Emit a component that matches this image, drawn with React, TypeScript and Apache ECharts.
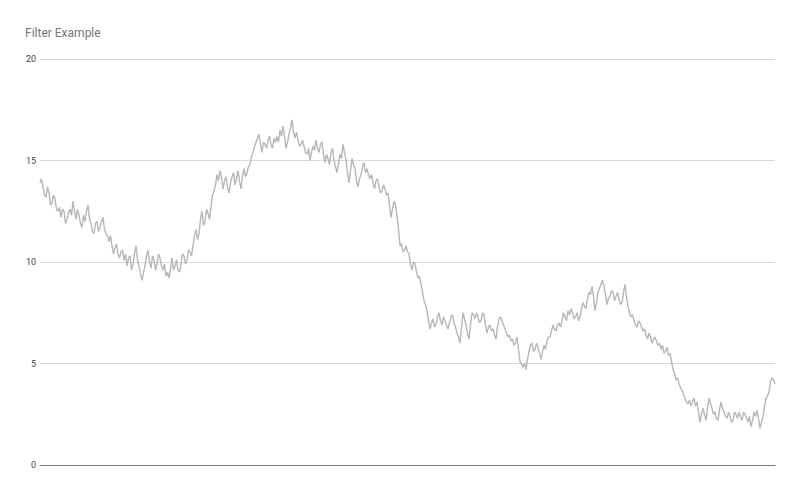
import { useEffect, useRef } from 'react'
import * as echarts from 'echarts'

const title = 'Filter Example'
const yTicks = [0, 5, 10, 15, 20]

// left to right, one value every ~1.5px
const values = [
  13.9, 14.1, 13.7, 13.3, 13.2, 13.7, 13.4, 12.8, 12.9, 13.3, 13.1, 12.6, 12.5, 12.7, 12.2, 12.6, 12.5, 11.9, 12.1, 12.4,
  12.6, 12.3, 13.0, 12.5, 12.1, 12.6, 12.3, 11.9, 11.7, 12.3, 12.0, 12.5, 12.8, 12.1, 11.9, 11.5, 11.4, 11.9, 12.0, 11.5,
  11.7, 12.0, 12.2, 11.6, 11.4, 11.3, 11.0, 11.3, 10.8, 10.4, 10.7, 10.9, 10.4, 10.2, 10.5, 10.6, 10.1, 10.4, 9.8, 10.2,
  10.3, 9.6, 9.9, 10.4, 10.8, 10.1, 9.8, 9.4, 9.1, 9.5, 9.8, 10.3, 10.6, 10.0, 9.7, 10.3, 10.1, 9.6, 9.9, 10.4,
  10.2, 9.8, 9.6, 9.9, 9.3, 9.5, 9.2, 9.7, 10.2, 9.6, 9.8, 10.1, 9.6, 9.5, 9.9, 10.4, 10.3, 9.9, 10.1, 10.6,
  10.5, 10.3, 10.8, 11.3, 11.6, 11.1, 11.4, 12.1, 12.5, 11.8, 12.0, 12.6, 12.4, 12.1, 12.7, 13.3, 13.5, 13.8, 14.3, 14.0,
  14.5, 14.2, 13.6, 14.0, 14.2, 13.7, 13.4, 13.9, 14.2, 14.4, 13.8, 14.1, 14.5, 14.0, 13.6, 14.2, 14.6, 14.2, 14.4, 14.7,
  14.8, 15.2, 15.4, 15.7, 15.9, 16.1, 16.3, 15.8, 15.4, 15.9, 15.8, 15.6, 16.0, 16.2, 15.8, 15.6, 16.1, 15.9, 16.2, 15.9,
  16.5, 16.2, 16.7, 16.2, 15.6, 15.9, 16.3, 16.6, 17.0, 16.4, 16.1, 16.4, 16.0, 15.7, 15.8, 16.0, 15.7, 15.4, 15.3, 15.6,
  15.0, 15.4, 15.7, 15.5, 16.0, 15.6, 15.4, 15.8, 15.9, 15.3, 14.9, 15.3, 15.1, 14.8, 15.4, 15.6, 15.0, 14.7, 14.4, 14.9,
  15.3, 15.1, 15.8, 15.4, 15.0, 14.4, 13.9, 14.5, 15.1, 14.8, 14.6, 14.0, 13.7, 14.1, 14.3, 14.7, 14.9, 14.4, 14.6, 14.3,
  14.1, 14.3, 13.9, 13.6, 14.0, 14.1, 13.7, 13.4, 13.5, 13.8, 13.6, 13.3, 13.4, 12.8, 12.2, 12.6, 13.0, 12.8, 12.3, 11.6,
  10.8, 10.9, 10.5, 10.6, 10.8, 10.5, 10.4, 9.9, 9.6, 10.0, 9.9, 9.5, 9.2, 9.3, 8.9, 8.5, 8.1, 7.9, 7.6, 7.1,
  6.7, 7.0, 7.2, 6.8, 6.9, 7.3, 7.5, 7.1, 6.9, 7.3, 7.1, 6.9, 6.7, 7.0, 7.3, 7.4, 7.0, 6.8, 6.5, 6.3,
  6.0, 6.8, 7.5, 7.2, 6.9, 6.5, 6.2, 6.9, 7.5, 7.4, 7.2, 7.5, 7.3, 7.0, 7.1, 7.5, 7.4, 6.9, 6.5, 6.8,
  6.9, 6.6, 6.7, 6.4, 6.2, 6.8, 7.2, 7.3, 7.1, 6.9, 6.7, 6.5, 6.3, 6.4, 6.1, 6.2, 5.9, 6.0, 6.3, 5.7,
  5.1, 5.0, 4.8, 5.0, 4.7, 5.2, 5.6, 5.9, 6.0, 5.6, 5.7, 6.0, 5.8, 5.5, 5.2, 5.6, 5.9, 5.7, 6.1, 6.3,
  6.3, 6.6, 6.9, 6.7, 6.6, 6.9, 7.0, 6.8, 7.1, 7.5, 7.3, 7.1, 7.6, 7.4, 7.7, 7.5, 7.2, 7.3, 7.5, 7.1,
  7.3, 7.7, 8.0, 7.8, 7.7, 8.2, 8.5, 8.4, 8.8, 8.3, 7.6, 8.0, 8.5, 8.7, 8.9, 9.1, 8.8, 8.4, 7.9, 8.2,
  8.3, 8.6, 8.5, 8.1, 8.3, 8.5, 8.2, 7.9, 8.0, 8.5, 8.9, 8.3, 7.8, 7.5, 7.3, 7.4, 7.1, 6.9, 6.8, 7.1,
  7.0, 6.8, 6.6, 6.7, 6.4, 6.2, 6.5, 6.3, 6.0, 6.2, 6.3, 6.1, 5.9, 6.0, 5.7, 5.9, 5.5, 5.6, 5.8, 5.4,
  5.5, 5.1, 4.7, 4.5, 4.2, 4.3, 4.0, 3.8, 3.7, 3.5, 3.3, 3.1, 3.0, 3.2, 2.9, 3.1, 3.3, 2.9, 3.1, 2.6,
  2.1, 2.5, 2.8, 2.5, 2.2, 2.8, 3.3, 3.0, 2.8, 2.5, 2.6, 2.3, 2.2, 2.7, 3.1, 2.8, 2.6, 2.4, 2.3, 2.6,
  2.4, 2.1, 2.2, 2.6, 2.5, 2.3, 2.6, 2.4, 2.2, 2.6, 2.5, 2.3, 2.1, 2.4, 1.9, 2.2, 2.6, 2.4, 2.7, 2.3,
  1.8, 2.1, 2.4, 2.9, 3.3, 3.4, 3.6, 4.1, 4.3, 4.2, 4.0,
]
const categories = values.map((_, i) => String(i + 1))

export default function App() {
  const ref = useRef<HTMLDivElement>(null)

  useEffect(() => {
    if (!ref.current) return
    document.body.style.margin = '0'
    const chart = echarts.init(ref.current, undefined, { renderer: 'svg' })
    chart.setOption({
      animation: false,
      backgroundColor: '#fff',
      title: {
        text: title, left: 20, top: 22,
        textStyle: { color: '#757575', fontSize: 12, fontWeight: 'normal', fontFamily: 'Roboto, Arial, sans-serif' },
      },
      grid: { left: 40, right: 25, top: 59, bottom: 29 },
      xAxis: {
        type: 'category', data: categories, boundaryGap: false,
        axisLine: { lineStyle: { color: '#777', width: 1 } },
        axisTick: { show: false }, axisLabel: { show: false },
      },
      yAxis: {
        type: 'value', min: yTicks[0], max: yTicks[yTicks.length - 1], interval: 5,
        axisLine: { show: false }, axisTick: { show: false },
        axisLabel: { color: '#444', fontSize: 9, margin: 4, fontFamily: 'Roboto, Arial, sans-serif' },
        splitLine: { lineStyle: { color: '#d9d9d9', width: 1 } },
      },
      series: [
        {
          type: 'line', data: values, symbol: 'none',
          lineStyle: { color: '#b7b7b7', width: 1.4 },
        },
      ],
    })
    return () => chart.dispose()
  }, [])

  return <div ref={ref} style={{ width: 800, height: 494 }} />
}
